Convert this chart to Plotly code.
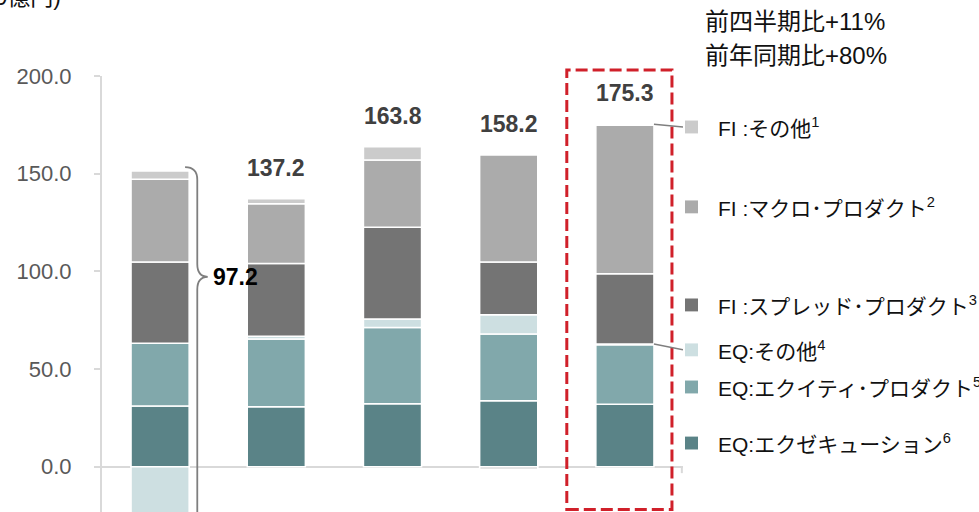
import plotly.graph_objects as go

# ---- data (10億円) ----
periods = ["P1", "P2", "P3", "P4", "P5"]
eq_execution = [31.1, 30.7, 32.2, 33.8, 32.0]
eq_equity = [32.1, 34.6, 39.1, 34.1, 30.4]
eq_other = [-54.2, 1.5, 4.3, 9.9, 0.4]
fi_spread = [41.6, 37.2, 47.0, 27.0, 36.0]
fi_macro = [42.3, 30.6, 34.4, 54.7, 76.0]
fi_other = [4.3, 2.6, 6.8, -1.3, 0.5]
net_totals = [97.2, 137.2, 163.8, 158.2, 175.3]

y_ticks = [0, 50, 100, 150, 200]
header_lines = ["前四半期比+11%", "前年同期比+80%"]
unit_label = "(10億円)"

# stacking order bottom -> top: (values, colour, legend text, footnote)
series = [
    (eq_execution, "#5a8387", "EQ:エクゼキューション", "6"),
    (eq_equity, "#81a8ab", "EQ:エクイティ･プロダクト", "5"),
    (eq_other, "#cddfe1", "EQ:その他", "4"),
    (fi_spread, "#747474", "FI :スプレッド･プロダクト", "3"),
    (fi_macro, "#ababab", "FI :マクロ･プロダクト", "2"),
    (fi_other, "#cbcbcb", "FI :その他", "1"),
]

FONT = "Liberation Sans, Arial, Noto Sans CJK JP, sans-serif"
BAR_W = 0.5
Y_MIN, Y_MAX = -23.2, 200.0
xs = list(range(len(periods)))

fig = go.Figure()
for vals, color, name, note in series:
    fig.add_trace(go.Bar(
        x=xs, y=vals, width=BAR_W, name=name,
        marker=dict(color=color, line=dict(color="white", width=1.5)),
        showlegend=False, hoverinfo="skip",
    ))

# positive stack height and negative depth per bar
cols = list(zip(*[s[0] for s in series]))
pos_top = [sum(v for v in col if v > 0) for col in cols]
neg_bottom = [sum(v for v in col if v < 0) for col in cols]

annotations = []
shapes = []

# total labels above bars (first bar uses the brace instead)
for i in range(1, len(periods)):
    annotations.append(dict(
        x=xs[i], y=pos_top[i], xref="x", yref="y", text=f"<b>{net_totals[i]:.1f}</b>",
        showarrow=False, yanchor="middle", yshift=31,
        font=dict(family=FONT, size=23, color="#404040"),
    ))

# brace for the first bar showing its net figure
bx0, bxv, bxt, r = xs[0] + 0.215, xs[0] + 0.32, xs[0] + 0.41, 6.5
top, tip, bot = pos_top[0] + 2.0, net_totals[0], neg_bottom[0]
brace = (
    f"M {bx0},{top} Q {bxv},{top} {bxv},{top - r} "
    f"L {bxv},{tip + r} Q {bxv},{tip} {bxt},{tip} "
    f"Q {bxv},{tip} {bxv},{tip - r} "
    f"L {bxv},{bot + r} Q {bxv},{bot} {bx0},{bot}"
)
shapes.append(dict(type="path", path=brace, xref="x", yref="y",
                   line=dict(color="#7f7f7f", width=1.8)))
annotations.append(dict(
    x=xs[0] + 0.44, y=net_totals[0], xref="x", yref="y", text=f"<b>{net_totals[0]:.1f}</b>",
    showarrow=False, xanchor="left", yanchor="middle",
    font=dict(family=FONT, size=23, color="#000000"),
))

# highlight frame around the latest period
shapes.append(dict(type="rect", xref="x", yref="paper",
                   x0=xs[-1] - 0.5, x1=xs[-1] + 0.405, y0=0.006, y1=1.014,
                   line=dict(color="#d0202a", width=3, dash="12px,5px")))

# small end tick of the category axis
shapes.append(dict(type="line", xref="x", yref="y", x0=4.49, x1=4.49, y0=0, y1=-3.3,
                   line=dict(color="#d9d9d9", width=2)))

# legend rows, positioned in y-axis units (top -> bottom)
legend_rows_y = {"1": 173.9, "2": 133.0, "3": 82.8, "4": 59.8, "5": 40.8, "6": 12.1}
sq_x0, sq_x1, txt_x = 1.0034, 1.0258, 1.057
half = 3.3
for vals, color, name, note in series:
    ly = legend_rows_y[note]
    shapes.append(dict(type="rect", xref="paper", yref="y",
                       x0=sq_x0, x1=sq_x1, y0=ly - half, y1=ly + half,
                       fillcolor=color, line=dict(width=0)))
    annotations.append(dict(
        x=txt_x, y=ly, xref="paper", yref="y", text=f"{name}<sup>{note}</sup>",
        showarrow=False, xanchor="left", yanchor="middle",
        font=dict(family=FONT, size=21, color="#111111"),
    ))

# leader lines from the latest bar to two legend rows
last = xs[-1]
fi_top = pos_top[-1]
eq_split = eq_execution[-1] + eq_equity[-1] + eq_other[-1]
for y_bar, key in [(fi_top, "1"), (eq_split, "4")]:
    shapes.append(dict(type="line", xref="x", yref="y",
                       x0=last + BAR_W / 2, x1=4.5, y0=y_bar, y1=legend_rows_y[key],
                       line=dict(color="#7f7f7f", width=1.5)))

# header comparison text
for k, line in enumerate(header_lines):
    annotations.append(dict(
        x=1.0344, y=[1.126, 1.046][k], xref="paper", yref="paper", text=line,
        showarrow=False, xanchor="left", yanchor="middle",
        font=dict(family=FONT, size=24, color="#111111"),
    ))

# unit label
annotations.append(dict(
    x=-0.067, y=1.181, xref="paper", yref="paper", text=unit_label,
    showarrow=False, xanchor="right", yanchor="middle",
    font=dict(family=FONT, size=23, color="#111111"),
))

fig.update_layout(
    width=979, height=512, autosize=False,
    margin=dict(l=102, r=296, t=76, b=0, pad=0),
    barmode="relative",
    paper_bgcolor="white", plot_bgcolor="white",
    annotations=annotations, shapes=shapes,
    xaxis=dict(range=[-0.5, 4.5], tickvals=xs, ticktext=periods,
               showticklabels=False, showgrid=False, zeroline=False,
               showline=False, ticks=""),
    yaxis=dict(range=[Y_MIN, Y_MAX], tickvals=y_ticks, tickformat=".1f",
               showgrid=False, showline=True, linecolor="#d9d9d9", linewidth=2,
               ticks="outside", ticklen=6, tickwidth=2, tickcolor="#d9d9d9",
               zeroline=True, zerolinecolor="#d9d9d9", zerolinewidth=2,
               ticklabelstandoff=18,
               tickfont=dict(family=FONT, size=22, color="#595959")),
)

fig.write_html("out.html")
